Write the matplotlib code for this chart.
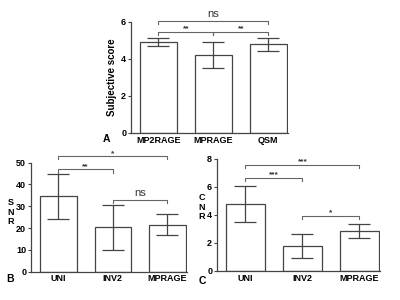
import numpy as np
import matplotlib.pyplot as plt

plt.rcParams['font.family'] = ['Liberation Sans', 'DejaVu Sans']

# panel A
a_labels = ["MP2RAGE", "MPRAGE", "QSM"]
a_mean = [4.9, 4.2, 4.8]
a_err = [0.21, 0.7, 0.35]
a_sig = [(0, 2, 6.05, "ns"), (0, 1, 5.48, "**"), (1, 2, 5.48, "**")]

# panel B
b_labels = ["UNI", "INV2", "MPRAGE"]
b_mean = [34.7, 20.3, 21.5]
b_err = [10.3, 10.5, 4.8]
b_sig = [(0, 2, 53.0, "*"), (0, 1, 47.0, "**"), (1, 2, 32.9, "ns")]

# panel C
c_labels = ["UNI", "INV2", "MPRAGE"]
c_mean = [4.8, 1.78, 2.85]
c_err = [1.3, 0.85, 0.5]
c_sig = [(0, 2, 7.57, "***"), (0, 1, 6.64, "***"), (1, 2, 3.93, "*")]

fig = plt.figure(figsize=(4, 3), dpi=100)
dark = "#444444"
lgrey = "#666666"


def panel(rect, labels, mean, err, sig, ymax, ystep, tick_h):
    ax = fig.add_axes(rect)
    x = np.arange(len(labels))
    ax.bar(x, mean, width=0.67, color="white", edgecolor=dark, linewidth=0.9, zorder=2)
    ax.errorbar(x, mean, yerr=err, fmt="none", ecolor=dark, elinewidth=0.9,
                capsize=8, capthick=0.9, zorder=3)
    for i, j, y, txt in sig:
        ax.plot([i, i, j, j], [y - tick_h, y, y, y - tick_h], color=lgrey, lw=0.8,
                clip_on=False)
        if txt == "ns":
            ax.text((i + j) / 2, y + tick_h * 0.5, txt, ha="center", va="bottom",
                    fontsize=8, color="#333333")
        else:
            ax.text((i + j) / 2, y - tick_h * 0.2, txt, ha="center", va="bottom",
                    fontsize=6, color="#333333", fontweight="bold")
    ax.set_xlim(-0.5, 2.36)
    ax.set_ylim(0, ymax)
    ax.set_yticks(np.arange(0, ymax + ystep / 2, ystep))
    ax.set_xticks(x)
    ax.set_xticklabels(labels, fontweight="bold", fontsize=6.5)
    for t in ax.get_yticklabels():
        t.set_fontweight("bold")
        t.set_fontsize(6.5)
    ax.tick_params(axis="y", length=2.5, width=0.8, pad=1, color=dark)
    ax.tick_params(axis="x", length=0, pad=2)
    for s in ["top", "right"]:
        ax.spines[s].set_visible(False)
    for s in ["left", "bottom"]:
        ax.spines[s].set_color(dark)
        ax.spines[s].set_linewidth(0.9)
    return ax


axA = panel([0.3275, 0.5567, 0.3925, 0.37], a_labels, a_mean, a_err, a_sig, 6, 2, 0.17)
axA.set_ylabel("Subjective score", fontsize=7, fontweight="bold", labelpad=3)
axB = panel([0.0775, 0.0943, 0.39, 0.3634], b_labels, b_mean, b_err, b_sig, 50, 10, 1.5)
axC = panel([0.5425, 0.0967, 0.4075, 0.3733], c_labels, c_mean, c_err, c_sig, 8, 2, 0.24)

fig.text(0.265, 0.535, "A", fontsize=7.5, fontweight="bold", ha="center", va="center")
fig.text(0.025, 0.07, "B", fontsize=7.5, fontweight="bold", ha="center", va="center")
fig.text(0.507, 0.063, "C", fontsize=7.5, fontweight="bold", ha="center", va="center")
fig.text(0.027, 0.293, "S\nN\nR", fontsize=6.5, fontweight="bold", ha="center", va="center",
         linespacing=1.1)
fig.text(0.505, 0.31, "C\nN\nR", fontsize=6.5, fontweight="bold", ha="center", va="center",
         linespacing=1.1)

fig.savefig("out.png", dpi=100)
